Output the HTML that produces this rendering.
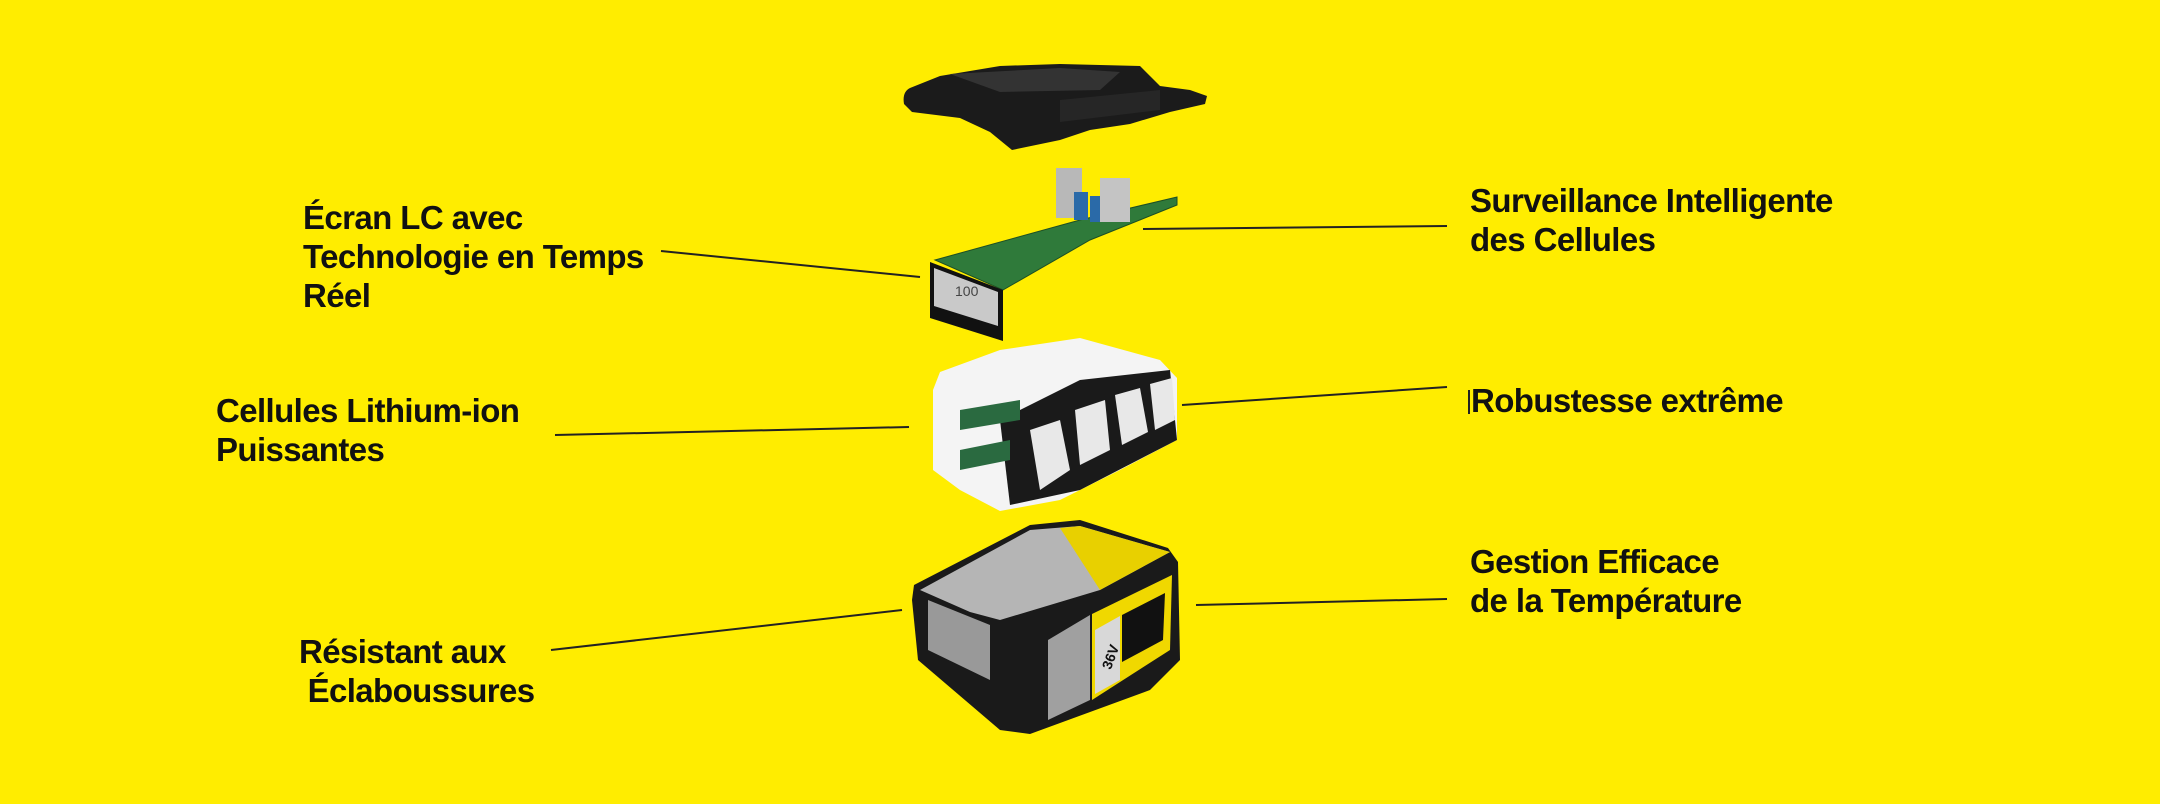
<!DOCTYPE html>
<html><head><meta charset="utf-8"><style>
html,body{margin:0;padding:0}
body{width:2160px;height:804px;background:#ffed00;position:relative;overflow:hidden;font-family:"Liberation Sans",sans-serif}
.t{position:absolute;font-weight:bold;font-size:33px;line-height:39px;color:#111;white-space:nowrap;letter-spacing:-0.6px}
svg{position:absolute;left:0;top:0}
</style></head><body>
<svg width="2160" height="804" viewBox="0 0 2160 804">
<g stroke="#222" stroke-width="2" fill="none">
<line x1="661" y1="251" x2="920" y2="277"/>
<line x1="1143" y1="229" x2="1447" y2="226"/>
<line x1="555" y1="435" x2="909" y2="427"/>
<line x1="1182" y1="405" x2="1447" y2="387"/>
<line x1="1196" y1="605" x2="1447" y2="599"/>
<line x1="551" y1="650" x2="902" y2="610"/>
<line x1="1469" y1="390" x2="1469" y2="414"/>
</g>
<path d="M910 88 Q902 92 904 104 L912 112 L960 118 L990 132 L1012 150 L1060 140 L1090 130 L1130 124 L1170 112 L1205 104 L1207 96 L1190 90 L1160 86 L1150 76 L1140 66 L1060 64 L1000 66 L940 76 Z" fill="#1b1b1b"/>
<path d="M950 74 L1060 68 L1120 72 L1100 90 L1000 92 Z" fill="#333"/>
<path d="M1060 100 L1160 90 L1160 110 L1060 122 Z" fill="#262626"/>
<path d="M935 260 L1080 220 L1177 197 L1177 205 L1090 240 L1003 290 Z" fill="#2f7a3a"/>
<path d="M935 260 L1080 220 L1177 197 L1177 205 L1090 240 L1003 290 Z" fill="none" stroke="#1d4f24" stroke-width="1"/>
<rect x="1056" y="168" width="26" height="50" fill="#b8b8b8"/>
<rect x="1100" y="178" width="30" height="44" fill="#c4c4c4"/>
<rect x="1074" y="192" width="14" height="28" fill="#2a6aa8"/>
<rect x="1090" y="196" width="10" height="26" fill="#2a6aa8"/>
<path d="M930 262 L1003 290 L1003 341 L930 318 Z" fill="#111"/>
<path d="M934 268 L998 292 L998 326 L934 306 Z" fill="#c9c9c9"/>
<text x="955" y="296" font-family="Liberation Sans" font-size="14" fill="#444">100</text>
<path d="M940 372 L1000 350 L1080 338 L1160 360 L1177 378 L1177 440 L1120 470 L1060 500 L1000 511 L960 490 L933 470 L933 390 Z" fill="#f4f4f4"/>
<path d="M1000 420 L1080 380 L1170 370 L1177 440 L1080 490 L1010 505 Z" fill="#1a1a1a"/>
<path d="M1030 430 L1060 420 L1070 470 L1040 490 Z M1075 410 L1105 400 L1110 450 L1080 465 Z M1115 395 L1140 388 L1148 432 L1122 445 Z M1150 384 L1172 378 L1175 420 L1155 430 Z" fill="#e8e8e8"/>
<path d="M960 410 L1020 400 L1020 420 L960 430 Z M960 450 L1010 440 L1010 460 L960 470 Z" fill="#2a6a40"/>
<path d="M914 585 L1030 525 L1080 520 L1168 548 L1178 562 L1180 660 L1150 690 L1030 734 L1000 730 L918 660 L912 600 Z" fill="#1a1a1a"/>
<path d="M920 590 L1030 530 L1080 526 L1170 552 L1100 590 L1000 620 L970 612 Z" fill="#b5b5b5"/>
<path d="M1060 528 L1080 526 L1170 552 L1100 590 Z" fill="#e8d000"/>
<path d="M928 600 L990 625 L990 680 L928 650 Z" fill="#999"/>
<path d="M1048 640 L1090 615 L1090 700 L1048 720 Z" fill="#a0a0a0"/>
<path d="M1092 614 L1172 575 L1170 650 L1092 700 Z" fill="#f0d800"/>
<path d="M1095 630 L1120 616 L1120 680 L1095 694 Z" fill="#d8d8d8"/>
<path d="M1122 615 L1165 593 L1163 640 L1122 662 Z" fill="#111"/>
<text x="1098" y="668" font-family="Liberation Sans" font-weight="bold" font-size="14" fill="#111" transform="rotate(-70 1106 660)">36V</text>
</svg>
<div class="t" style="left:303px;top:198px">Écran LC avec<br>Technologie en Temps<br>Réel</div>
<div class="t" style="left:1470px;top:181px">Surveillance Intelligente<br>des Cellules</div>
<div class="t" style="left:216px;top:391px">Cellules Lithium-ion<br>Puissantes</div>
<div class="t" style="left:1471px;top:381px">Robustesse extrême</div>
<div class="t" style="left:1470px;top:542px">Gestion Efficace<br>de la Température</div>
<div class="t" style="left:299px;top:632px">Résistant aux<br>&nbsp;Éclaboussures</div>
</body></html>
